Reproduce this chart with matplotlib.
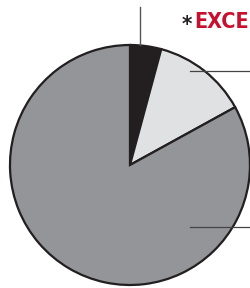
import matplotlib.pyplot as plt

# slice shares, clockwise from the top
shares = [4.2, 12.8, 83.0]
colors = ["#231f20", "#e0e1e3", "#939598"]

fig = plt.figure(figsize=(2.5, 2.88), dpi=100)
ax = fig.add_axes([0, 0, 1, 1])
ax.pie(shares, colors=colors, startangle=90, counterclock=False, radius=1.0,
       wedgeprops=dict(edgecolor="#231f20", linewidth=1.6))
ax.set_xlim(-1.083, 1.0)
ax.set_ylim(-1.025, 1.375)
ax.set_aspect("equal")
ax.axis("off")

# leader lines
ax.plot([0.083, 0.083], [1.0, 1.317], color="#555555", lw=1.0, clip_on=False)
ax.plot([0.5, 1.0], [0.783, 0.783], color="#444444", lw=0.9, clip_on=False)
ax.plot([0.5, 1.0], [-0.517, -0.517], color="#444444", lw=0.9, clip_on=False)

ax.text(0.43, 1.17, "*", color="#231f20", fontsize=16, fontweight="bold",
        family="DejaVu Sans", fontstretch="condensed", va="center", ha="left")
ax.text(0.99, 1.19, "EXCE", color="#c8102e", fontsize=15.5, fontweight="bold",
        family="DejaVu Sans", fontstretch="condensed", va="center", ha="right")

fig.savefig("out.png", dpi=100)
